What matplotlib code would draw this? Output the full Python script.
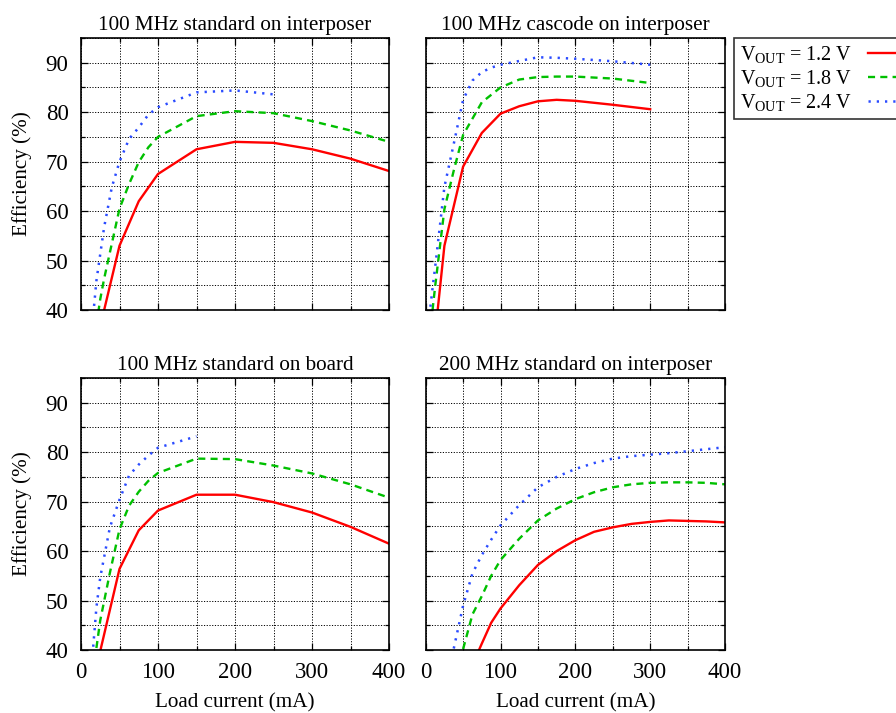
import matplotlib
matplotlib.use("Agg")
import matplotlib.pyplot as plt
from matplotlib.ticker import MultipleLocator

plt.rcParams['font.family'] = ['Liberation Serif', 'DejaVu Serif']
plt.rcParams['mathtext.fontset'] = 'custom'
plt.rcParams['mathtext.rm'] = 'Liberation Serif'
plt.rcParams['mathtext.it'] = 'Liberation Serif:italic'

titles = ["100 MHz standard on interposer", "100 MHz cascode on interposer",
          "100 MHz standard on board", "200 MHz standard on interposer"]
series_labels = [r"$\mathrm{V_{OUT}}$ = 1.2 V", r"$\mathrm{V_{OUT}}$ = 1.8 V", r"$\mathrm{V_{OUT}}$ = 2.4 V"]

# Panel 1: 100 MHz standard on interposer
p1_x12 = [25, 50, 75, 100, 150, 200, 250, 300, 350, 400]
p1_y12 = [36.7, 53.0, 62.0, 67.5, 72.5, 74.0, 73.8, 72.5, 70.6, 68.1]
p1_x18 = [20, 25, 30, 40, 50, 62.5, 75, 87.5, 100, 150, 200, 250, 300, 350, 400]
p1_y18 = [37.0, 42.2, 46.3, 53.4, 60.5, 65.5, 69.9, 72.9, 75.0, 79.2, 80.2, 79.8, 78.2, 76.3, 74.0]
p1_x24 = [15, 20, 25, 30, 40, 50, 62.5, 75, 87.5, 100, 150, 200, 250]
p1_y24 = [37.5, 45.9, 51.3, 56.7, 64.8, 70.0, 74.6, 76.9, 79.5, 81.0, 84.0, 84.4, 83.6]

# Panel 2: 100 MHz cascode on interposer
p2_x12 = [10, 25, 50, 75, 100, 125, 150, 175, 200, 250, 300]
p2_y12 = [31.3, 53.0, 69.0, 75.8, 79.7, 81.2, 82.2, 82.5, 82.3, 81.5, 80.6]
p2_x18 = [7.5, 10, 12.5, 25, 37.5, 50, 62.5, 75, 87.5, 100, 125, 150, 175, 200, 250, 300]
p2_y18 = [37.5, 41.2, 44.6, 60.4, 68.2, 75.4, 78.7, 82.0, 83.5, 85.0, 86.6, 87.1, 87.2, 87.2, 86.8, 85.9]
p2_x24 = [5, 10, 12.5, 25, 37.5, 50, 62.5, 75, 87.5, 100, 150, 175, 200, 250, 300]
p2_y24 = [39.0, 45.5, 48.5, 64.9, 73.6, 82.5, 86.4, 88.1, 89.0, 89.6, 91.1, 91.0, 90.8, 90.3, 89.6]

# Panel 3: 100 MHz standard on board
p3_x12 = [25, 50, 75, 100, 150, 200, 250, 300, 350, 400]
p3_y12 = [39.8, 56.4, 64.2, 68.2, 71.4, 71.4, 69.9, 67.8, 64.9, 61.5]
p3_x18 = [20, 25, 37.5, 50, 62.5, 75, 87.5, 100, 150, 200, 250, 300, 350, 400]
p3_y18 = [40.4, 46.0, 55.6, 64.4, 69.2, 72.0, 74.2, 75.8, 78.7, 78.6, 77.3, 75.7, 73.5, 70.8]
p3_x24 = [15, 20, 25, 37.5, 50, 62.5, 75, 87.5, 100, 150]
p3_y24 = [39.0, 48.6, 54.7, 64.8, 70.4, 75.3, 77.5, 79.3, 80.9, 83.2]

# Panel 4: 200 MHz standard on interposer
p4_x12 = [62.5, 75, 87.5, 100, 125, 150, 175, 200, 225, 250, 275, 300, 325, 350, 375, 400]
p4_y12 = [37.0, 41.3, 45.5, 48.4, 53.1, 57.2, 60.0, 62.2, 63.9, 64.8, 65.5, 65.9, 66.2, 66.1, 66.0, 65.8]
p4_x18 = [50, 62.5, 75, 87.5, 100, 125, 150, 175, 200, 225, 250, 275, 300, 325, 350, 375, 400]
p4_y18 = [40.2, 47.2, 50.9, 55.0, 58.2, 62.5, 66.2, 68.6, 70.5, 71.9, 72.9, 73.5, 73.8, 73.9, 73.9, 73.8, 73.5]
p4_x24 = [37.5, 50, 62.5, 75, 87.5, 100, 125, 150, 175, 200, 225, 250, 275, 300, 325, 350, 375, 400]
p4_y24 = [40.3, 49.0, 55.5, 59.2, 62.3, 65.2, 69.3, 72.9, 75.0, 76.6, 77.8, 78.7, 79.2, 79.5, 79.8, 80.2, 80.6, 81.0]

panels = [
    [(p1_x12, p1_y12), (p1_x18, p1_y18), (p1_x24, p1_y24)],
    [(p2_x12, p2_y12), (p2_x18, p2_y18), (p2_x24, p2_y24)],
    [(p3_x12, p3_y12), (p3_x18, p3_y18), (p3_x24, p3_y24)],
    [(p4_x12, p4_y12), (p4_x18, p4_y18), (p4_x24, p4_y24)],
]

colors = ['#ff0000', '#00c000', '#2a4bff']
styles = ['-', (0, (3.0, 2.2)), (0, (0.9, 2.4))]
widths = [1.7, 1.7, 1.8]

W, H = 896, 713
fig = plt.figure(figsize=(W / 100, H / 100), dpi=100)

def frac(x0, x1, ytop, ybot):
    return [x0 / W, 1 - ybot / H, (x1 - x0) / W, (ybot - ytop) / H]

rects = [frac(81, 389, 38, 310), frac(425.7, 725, 38, 310),
         frac(81, 389, 378, 650), frac(425.7, 725, 378, 650)]

handles = []
for i, (rect, title, data) in enumerate(zip(rects, titles, panels)):
    ax = fig.add_axes(rect)
    for (xs, ys), c, ls, lw, lab in zip(data, colors, styles, widths, series_labels):
        ln, = ax.plot(xs, ys, color=c, linestyle=ls, linewidth=lw, label=lab, clip_on=True)
        if i == 0:
            handles.append(ln)
    ax.set_xlim(0, 400)
    ax.set_ylim(40, 95)
    ax.xaxis.set_major_locator(MultipleLocator(100))
    ax.xaxis.set_minor_locator(MultipleLocator(50))
    ax.yaxis.set_major_locator(MultipleLocator(10))
    ax.yaxis.set_minor_locator(MultipleLocator(5))
    ax.yaxis.set_major_formatter(plt.FuncFormatter(lambda v, p: "%d" % v if v <= 90 else ""))
    ax.grid(True, which='both', color='black', linestyle=(0, (1.2, 1.6)), linewidth=0.7)
    ax.set_axisbelow(True)
    ax.tick_params(which='both', direction='in', top=True, right=True, labelsize=16.5)
    ax.tick_params(axis='y', pad=9)
    ax.tick_params(axis='x', pad=9)
    ax.tick_params(which='major', length=5, width=0.9)
    ax.tick_params(which='minor', length=3, width=0.9)
    for s in ax.spines.values():
        s.set_linewidth(1.2)
    ax.set_title(title, fontsize=15.2, pad=6)
    if i in (0, 2):
        ax.set_ylabel("Efficiency (%)", fontsize=15.2, labelpad=10)
    else:
        ax.tick_params(labelleft=False)
    if i in (2, 3):
        ax.set_xlabel("Load current (mA)", fontsize=15.2, labelpad=7)
    else:
        ax.tick_params(labelbottom=False)

leg = fig.legend(handles=handles, loc='upper left', bbox_to_anchor=(734 / W, 1 - 38 / H),
                 fontsize=14.5, markerfirst=False, frameon=True, fancybox=False,
                 edgecolor='black', handlelength=3.2, handletextpad=0.8,
                 borderpad=0.3, labelspacing=0.15, borderaxespad=0)
leg.get_frame().set_linewidth(1.2)

fig.savefig("out.png", dpi=100)
